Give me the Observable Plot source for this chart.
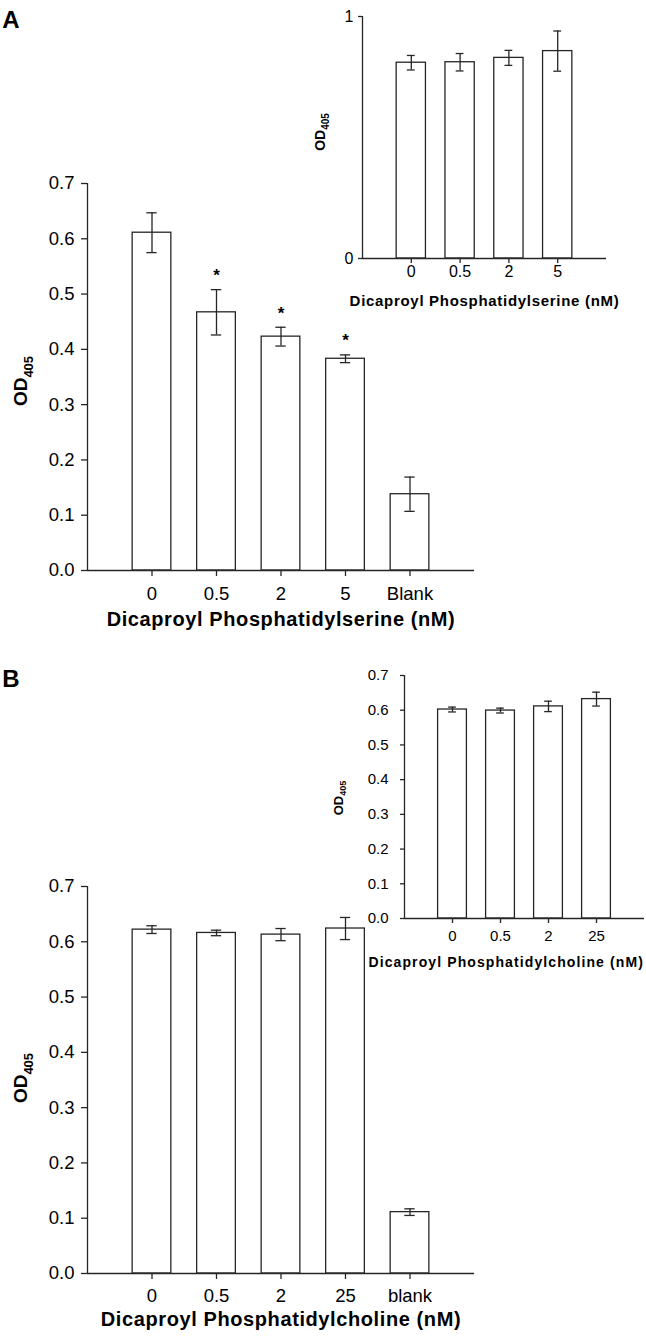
<!DOCTYPE html>
<html><head><meta charset="utf-8">
<script src="https://cdn.jsdelivr.net/npm/d3@7"></script>
<script src="https://cdn.jsdelivr.net/npm/@observablehq/plot@0.6"></script>
<style>
body{margin:0;background:#fff;}
#wrap{position:relative;width:646px;height:1336px;overflow:hidden;background:#fff;}
#wrap svg{position:absolute;}
</style></head><body><div id="wrap"></div>
<script>
// ---- Data ----
const catA = ["0", "0.5", "2", "5", "Blank"];
const valA = [0.611, 0.467, 0.423, 0.383, 0.138];
const errA = [0.036, 0.041, 0.017, 0.007, 0.031];
const sigA = [false, true, true, true, false];
const titleA = "Dicaproyl Phosphatidylserine (nM)";

const insetCatA = ["0", "0.5", "2", "5"];
const insetValA = [0.809, 0.811, 0.829, 0.857];
const insetErrA = [0.030, 0.036, 0.031, 0.083];

const catB = ["0", "0.5", "2", "25", "blank"];
const valB = [0.622, 0.616, 0.613, 0.624, 0.111];
const errB = [0.007, 0.005, 0.011, 0.020, 0.006];
const titleB = "Dicaproyl Phosphatidylcholine (nM)";

const insetCatB = ["0", "0.5", "2", "25"];
const insetValB = [0.602, 0.599, 0.611, 0.632];
const insetErrB = [0.007, 0.007, 0.015, 0.020];

const mainTicks = [0, 0.1, 0.2, 0.3, 0.4, 0.5, 0.6, 0.7];
const insetTicksA = [0, 1];
const yLabelMain = "OD";
const yLabelSub = "405";

// ---- Style ----
const FONT = '"Liberation Sans", Arial, Helvetica, sans-serif';
const INK = "#262626";
const wrap = document.getElementById("wrap");

function barChart(o) {
  const data = o.cats.map((c, i) => ({c, pos: i + 1, v: o.vals[i], e: o.errs[i], s: o.sig ? o.sig[i] : false}));
  const n = o.cats.length;
  const sw = o.sw || 1.3;
  const marks = [
    Plot.rect(data, {x1: d => d.pos - 0.3, x2: d => d.pos + 0.3, y1: 0, y2: "v", fill: "white", stroke: INK, strokeWidth: sw}),
    Plot.ruleX(data, {x: "pos", y1: d => d.v - d.e, y2: d => d.v + d.e, stroke: INK, strokeWidth: sw}),
    Plot.ruleY(data, {y: d => d.v + d.e, x1: d => d.pos - 0.08, x2: d => d.pos + 0.08, stroke: INK, strokeWidth: sw}),
    Plot.ruleY(data, {y: d => d.v - d.e, x1: d => d.pos - 0.08, x2: d => d.pos + 0.08, stroke: INK, strokeWidth: sw}),
    Plot.ruleX([0], {y1: o.yDomain[0], y2: o.yDomain[1], stroke: INK, strokeWidth: sw}),
    Plot.ruleY([o.yDomain[0]], {x1: 0, x2: n + 1, stroke: INK, strokeWidth: sw})
  ];
  if (o.sig) {
    marks.push(Plot.text(data.filter(d => d.s), {x: "pos", y: d => d.v + d.e, text: () => "*", dy: -14, fontSize: 17, fontWeight: "bold", fill: "black"}));
  }
  if (o.title) {
    marks.push(Plot.text([o.title], {frameAnchor: o.titleAnchor || "bottom", dx: o.titleDx || 0, dy: o.titleDy, textAnchor: o.titleTextAnchor || "middle", fontSize: o.titleSize, fontWeight: "bold", fill: "black"}));
  }
  const svg = Plot.plot({
    width: o.width, height: o.height,
    marginLeft: o.m[0], marginRight: o.m[1], marginTop: o.m[2], marginBottom: o.m[3],
    x: {domain: [0, n + 1], ticks: data.map(d => d.pos), tickFormat: p => o.cats[p - 1], tickSize: o.xTickSize, tickPadding: o.xPad, label: null},
    y: {domain: o.yDomain, ticks: o.yTicks, tickFormat: o.yFmt, tickSize: o.yTickSize, tickPadding: o.yPad, label: null},
    style: {fontFamily: FONT, fontSize: o.tickFont + "px", color: "black", background: "transparent", overflow: "visible"},
    marks
  });
  svg.style.left = o.left + "px";
  svg.style.top = o.top + "px";
  d3.select(svg).selectAll("[aria-label='x-axis tick'], [aria-label='y-axis tick']").attr("stroke", INK).attr("stroke-width", sw);
  if (o.title && o.titleSpacing) {
    d3.select(svg).selectAll("text").filter(function () { return this.textContent === o.title; })
      .style("letter-spacing", o.titleSpacing + "px");
  }
  // y label with subscript
  const t = d3.select(svg).append("text")
    .attr("transform", `translate(${o.yl[0]},${o.yl[1]}) rotate(-90)`)
    .attr("text-anchor", "middle")
    .attr("font-family", FONT)
    .attr("font-weight", "bold")
    .attr("fill", "black");
  t.append("tspan").attr("font-size", o.yl[2]).text(yLabelMain);
  t.append("tspan").attr("font-size", o.yl[3]).attr("dy", o.yl[4]).text(yLabelSub);
  if (o.letter) {
    d3.select(svg).append("text").attr("x", o.letter[0]).attr("y", o.letter[1])
      .attr("font-family", FONT).attr("font-weight", "bold").attr("font-size", 24).attr("fill", "black").text(o.letter[2]);
  }
  wrap.appendChild(svg);
  return svg;
}

// Panel A main
barChart({cats: catA, vals: valA, errs: errA, sig: sigA, title: titleA, titleDy: 55, titleSize: 20, titleSpacing: 0.6,
  width: 646, height: 640, left: 0, top: 0, m: [87, 172, 183, 70],
  yDomain: [0, 0.7], yTicks: mainTicks, yFmt: d3.format(".1f"), tickFont: 18.5,
  xTickSize: 6, xPad: 10, yTickSize: 6, yPad: 7, yl: [27, 381, 19, 13, 6], letter: [11, 28, "A"]});

// Panel A inset
barChart({cats: insetCatA, vals: insetValA, errs: insetErrA, title: titleA, titleDy: 47, titleSize: 15, titleSpacing: 0.7,
  width: 346, height: 320, left: 300, top: 0, m: [62, 40, 16, 62],
  yDomain: [0, 1], yTicks: insetTicksA, yFmt: d3.format("d"), tickFont: 16,
  xTickSize: 5, xPad: 2, yTickSize: 4, yPad: 5, yl: [25, 132, 14, 10, 4]});

// Panel B main
barChart({cats: catB, vals: valB, errs: errB, title: titleB, titleDy: 52, titleSize: 20, titleSpacing: 0.6,
  width: 646, height: 676, left: 0, top: 660, m: [87, 172, 226, 63],
  yDomain: [0, 0.7], yTicks: mainTicks, yFmt: d3.format(".1f"), tickFont: 18.5,
  xTickSize: 6, xPad: 9, yTickSize: 6, yPad: 7, yl: [27, 418, 19, 13, 6], letter: [11, 27, "B"]});

// Panel B inset
barChart({cats: insetCatB, vals: insetValB, errs: insetErrB, title: titleB, titleDy: 48, titleSize: 14, titleSpacing: 1.1,
  titleAnchor: "bottom-left", titleDx: -36, titleTextAnchor: "start",
  width: 346, height: 330, left: 300, top: 650, m: [104, 2, 25, 62],
  yDomain: [0, 0.7], yTicks: mainTicks, yFmt: d3.format(".1f"), tickFont: 15,
  xTickSize: 5, xPad: 7, yTickSize: 4, yPad: 12, yl: [43, 148, 13, 9, 3]});
</script></body></html>
